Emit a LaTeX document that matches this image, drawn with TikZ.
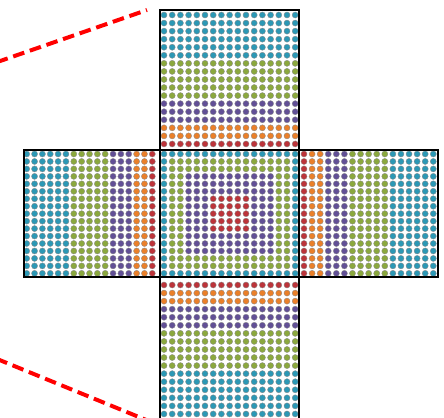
\documentclass[tikz,border=0pt]{standalone}
\usepackage{xcolor}
\usepackage{tikz}
\definecolor{cteal}{RGB}{44,152,181}
\definecolor{cgreen}{RGB}{139,168,62}
\definecolor{cpurple}{RGB}{98,80,150}
\definecolor{corange}{RGB}{234,128,42}
\definecolor{cred}{RGB}{188,52,58}
\tikzset{face/.style={line width=1pt,black},
  dotpt/.style={draw=black!45,line width=0.3pt},
  frustum/.style={red,line width=3.4pt,dash pattern=on 10pt off 5pt}}
% #1,#2 first dot, #3,#4 steps, #5 band of dot (\i,\j)
\newcommand\dotface[5]{%
\foreach \i in {0,...,16}{\foreach \j in {0,...,16}{%
\pgfmathtruncatemacro\band{#5}%
\ifnum\band<6 \def\dc{cteal}\else\ifnum\band<11 \def\dc{cgreen}\else
\ifnum\band<14 \def\dc{cpurple}\else\ifnum\band<16 \def\dc{corange}\else
\def\dc{cred}\fi\fi\fi\fi
\filldraw[dotpt,fill=\dc](#1+#3*\i,#2+#4*\j)circle(3.05);}}}
\begin{document}
\begin{tikzpicture}[x=0.03cm,y=-0.03cm]
\useasboundingbox(0,0)rectangle(444,418);
\clip(0,0)rectangle(444,418);
\dotface{164}{15}{8.2}{8.06}{\j}
\dotface{164}{285}{8.2}{8.06}{16-\j}
\dotface{26.7}{154}{7.85}{7.46}{\i}
\dotface{304}{154}{8.08}{7.46}{16-\i}
\dotface{164}{154}{8.2}{7.46}{max(abs(\i-8),abs(\j-8))==8 ? 0 : (max(abs(\i-8),abs(\j-8))>5 ? 6 : (max(abs(\i-8),abs(\j-8))>2 ? 11 : 16))}
\draw[face](160,10)rectangle(299,150)
(24,150)rectangle(160,277)
(160,150)rectangle(299,277)
(299,150)rectangle(438,277)
(160,277)rectangle(299,424);
\coordinate(farA)at(-20,68);
\coordinate(nearA)at(147,10);
\coordinate(farB)at(-20,352);
\coordinate(nearB)at(156,424);
\draw[frustum](farA)--(nearA);
\draw[frustum](farB)--(nearB);
\end{tikzpicture}
\end{document}
